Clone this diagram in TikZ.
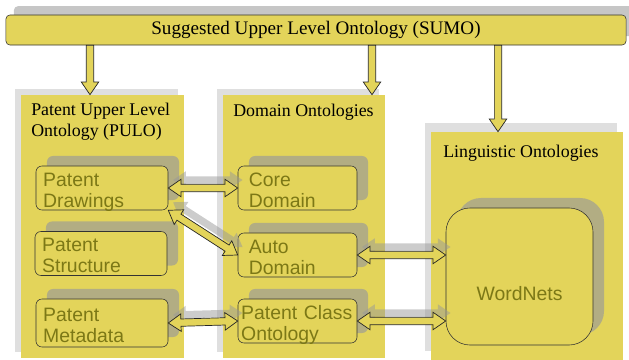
\documentclass[tikz,border=0pt]{standalone}
\usepackage{fontspec}
\setmainfont{Liberation Serif}
\setsansfont{Liberation Sans}
\usetikzlibrary{calc,positioning,shadows}
\definecolor{onto}{RGB}{227,212,90}
\definecolor{ontotext}{RGB}{124,120,22}
\newcommand{\arrshaft}{2.6pt}
\newcommand{\arrhead}{6.2pt}
\newcommand{\arrlen}{9pt}
% block arrow, one head: #2 -> #3
\newcommand{\onearrow}[3][]{%
  \draw[blockarrow,#1] ($(#2)!\arrshaft!90:(#3)$)
    -- ($(#3)!\arrlen!(#2)!\arrshaft!-90:(#2)$)
    -- ($(#3)!\arrlen!(#2)!\arrhead!-90:(#2)$)
    -- (#3)
    -- ($(#3)!\arrlen!(#2)!\arrhead!90:(#2)$)
    -- ($(#3)!\arrlen!(#2)!\arrshaft!90:(#2)$)
    -- ($(#2)!\arrshaft!-90:(#3)$) -- cycle;}
% block arrow, two heads: #2 <-> #3
\newcommand{\twoarrow}[3][]{%
  \draw[blockarrow,#1] (#2)
    -- ($(#2)!\arrlen!(#3)!\arrhead!90:(#3)$)
    -- ($(#2)!\arrlen!(#3)!\arrshaft!90:(#3)$)
    -- ($(#3)!\arrlen!(#2)!\arrshaft!-90:(#2)$)
    -- ($(#3)!\arrlen!(#2)!\arrhead!-90:(#2)$)
    -- (#3)
    -- ($(#3)!\arrlen!(#2)!\arrhead!90:(#2)$)
    -- ($(#3)!\arrlen!(#2)!\arrshaft!90:(#2)$)
    -- ($(#2)!\arrlen!(#3)!\arrshaft!-90:(#3)$)
    -- ($(#2)!\arrlen!(#3)!\arrhead!-90:(#3)$)
    -- cycle;}
\tikzset{
  outerbox/.style={rectangle,fill=onto,inner sep=0pt,
    drop shadow={shadow xshift=-0.15cm,shadow yshift=#1,fill=gray!25,opacity=1}},
  outerbox/.default=0.15cm,
  sumobox/.style={draw=black!80,fill=onto,rounded corners=0.1cm,minimum width=15.5cm,
    minimum height=0.75cm,font=\fontsize{13.6}{16}\selectfont,
    drop shadow={shadow xshift=0.2cm,shadow yshift=0.22cm,fill=gray!45,opacity=1}},
  titletext/.style={inner sep=0pt,align=left,anchor=north west,font=\fontsize{12.7}{15}\selectfont},
  innerbox/.style={draw=black!80,fill=onto,rounded corners=0.15cm,minimum height=1.1cm,
    inner ysep=0.05cm,align=left,text=ontotext,font=\sffamily\fontsize{13.8}{15}\selectfont,
    drop shadow={shadow xshift=0.275cm,shadow yshift=0.25cm,fill=gray!80,opacity=.65}},
  leftbox/.style={innerbox,inner xsep=0.18cm,text width=2.94cm,text height=0.35cm,text depth=0.45cm},
  rightbox/.style={innerbox,inner xsep=0.27cm,text width=2.435cm,text height=0.35cm,text depth=0.45cm},
  blockarrow/.style={draw=black!85,fill=onto,line width=0.5pt},
  arrowshadow/.style={drop shadow={shadow xshift=0.12cm,shadow yshift=0.2cm,fill=gray!80,opacity=.5}}
}

\begin{document}
\begin{tikzpicture}[x=0.025cm,y=-0.025cm]
  \useasboundingbox (0,0) rectangle (629,360);
  % containers
  \node[outerbox,minimum width=4.075cm,minimum height=6.575cm] (pulo) at (102.5,226.5) {};
  \node[outerbox,minimum width=4.05cm,minimum height=6.575cm] (dom) at (304,226.5) {};
  \node[outerbox=0.22cm,minimum width=4.8cm,minimum height=5.7cm] (ling) at (527,246) {};
  \node[titletext] (pulot) at (31,103) {Patent Upper Level\\Ontology (PULO)};
  \node[titletext] (domt) at (233,104) {Domain Ontologies};
  \node[titletext] (lingt) at (443,145) {Linguistic Ontologies};
  % ontologies
  \node[leftbox] (pd) at (102,188) {Patent\\Drawings};
  \node[leftbox] (ps) at (101,253.5) {Patent\\Structure};
  \node[leftbox,minimum height=1.2cm] (pm) at (102,323) {Patent\\Metadata};
  \node[rightbox] (cd) at (297.5,188) {Core\\Domain};
  \node[rightbox] (ad) at (297.5,255) {Auto\\Domain};
  \node[rightbox,inner xsep=0.08cm,text width=2.815cm] (pc) at (297.5,321) {Patent Class\\Ontology};
  \node[innerbox,rounded corners=0.6cm,minimum width=3.675cm,minimum height=3.425cm,
    text height=1.28cm,text depth=0.1cm] (wn) at (519.5,276.5) {WordNets};
  % top level
  \node[sumobox] (sumo) at (316,30) {Suggested Upper Level Ontology (SUMO)};
  \coordinate (t1) at (90,0);
  \coordinate (t2) at (372,0);
  \coordinate (t3) at (498,0);
  \coordinate (d1s) at (sumo.south -| t1);
  \coordinate (d1e) at (pulo.north -| t1);
  \coordinate (d2s) at (sumo.south -| t2);
  \coordinate (d2e) at (dom.north -| t2);
  \coordinate (d3s) at (sumo.south -| t3);
  \coordinate (d3e) at (ling.north -| t3);
  \onearrow{d1s}{d1e}
  \onearrow{d2s}{d2e}
  \onearrow{d3s}{d3e}
  % links
  \coordinate (l3e) at (ad.east -| wn.west);
  \coordinate (l4e) at (pc.east -| wn.west);
  \twoarrow[arrowshadow]{pd.east}{cd.west}
  \twoarrow[arrowshadow]{pd.south east}{ad.west}
  \twoarrow[arrowshadow]{pm.east}{pc.west}
  \twoarrow[arrowshadow]{ad.east}{l3e}
  \twoarrow[arrowshadow]{pc.east}{l4e}
\end{tikzpicture}
\end{document}
